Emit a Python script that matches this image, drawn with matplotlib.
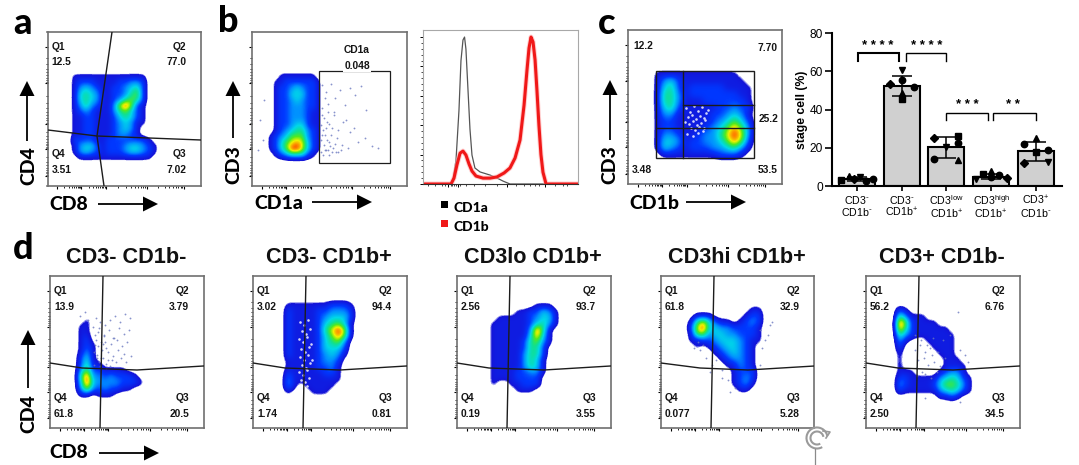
import numpy as np
import matplotlib
matplotlib.use("Agg")
import matplotlib.pyplot as plt
from matplotlib.colors import LinearSegmentedColormap
from matplotlib.patches import Arc, Rectangle

W, H = 1079, 465
plt.rcParams['font.family'] = ['Liberation Sans', 'DejaVu Sans']
plt.rcParams['mathtext.default'] = 'regular'

# density, 0 = empty, 1 = blue ... 9 = red, one string per row
dens_a = ["111111111111100", "122211112233200", "134321122345200", "145431122356200",
          "145431123565200", "135321137962100", "123211135642100", "112211124542100",
          "112211123431100", "112211123431000", "112211123321000", "222211222222210",
          "134421222344321", "134321222344321", "011111111111110"]
dens_b = ["0011111110", "0112222221", "0122343221", "0122444221", "0122343221",
          "0122333221", "0122333211", "0122333211", "0122344211", "0123455321",
          "1234666321", "1246787421", "1246997421", "0123444210"]
dens_c = ["11111111111100", "13421111111110", "14521222221111", "15531222222211",
          "15531112222221", "14521111122322", "13311111223431", "12211111234642",
          "12211112346863", "13321123357973", "14431223346862", "14321222334531",
          "01111111122210"]
dens_d1 = ["000000000000", "010000000000", "110000000000", "110000000000", "120000000000",
           "121000000000", "131000000000", "241000000000", "251100000000", "362211110000",
           "593323222100", "494333322210", "373232211000", "110111000000"]
dens_d2 = ["11111112221", "21111223332", "21111234442", "21111245641", "21111257971",
           "21111246861", "21111245630", "21111244420", "21111234310", "11111233200",
           "11111223100", "21111122100", "31111111100", "31011111000", "10001110000"]
dens_d3 = ["00000001110", "00001122431", "01111123441", "11111124531", "11111139510",
           "11111148410", "11111256310", "11111255200", "11111355200", "11111354100",
           "11111354100", "11112233100", "11112222000", "10011222000", "00001110000"]
dens_d4 = ["0000000000110", "0111000001220", "1574211012320", "2794433222210",
           "1663443322210", "1122344432110", "0101234432100", "0000123432100",
           "0000012332100", "0000001132100", "0000000122200", "0000000123200",
           "0000000123100", "0000000011000"]
dens_d5 = ["2100000000000", "5311100000000", "9621111000000", "8521111110000",
           "5321111111000", "3100011111000", "2000001111000", "1000000111000",
           "1000000011100", "1000000011110", "1110000123310", "2211111345421",
           "3211112466531", "2111111345421", "0000000112100"]

# sparse events outside the dense part
sparse_b_x = [322, 326, 331, 335, 340, 345, 350, 355, 361, 366, 324, 329, 334, 338, 343, 322, 327, 332,
              337, 342, 350, 358, 365, 372, 378, 325, 330, 336, 341, 348, 322, 328, 334, 346, 354, 260, 263, 258, 264,
              321, 323, 325, 327, 329, 321, 324, 326, 328, 331, 333, 321, 323, 326, 329, 332, 335, 338, 322, 325, 328]
sparse_b_y = [85, 92, 84, 98, 90, 105, 88, 95, 86, 110, 118, 124, 115, 130, 122, 135, 140, 128, 138, 145,
              132, 142, 138, 146, 148, 150, 146, 152, 150, 148, 108, 104, 112, 120, 128, 120, 140, 150, 100,
              125, 130, 135, 122, 142, 140, 145, 128, 150, 135, 148, 152, 155, 150, 155, 152, 144, 152, 115, 98, 112]
sparse_d1_x = [96, 100, 105, 110, 115, 120, 125, 130, 98, 104, 109, 114, 119, 124, 129, 95, 101, 106, 111,
               117, 122, 127, 97, 103, 108, 113, 118, 124, 94, 99, 106, 112, 116, 121, 126, 131, 80, 85, 88,
               93, 96, 99, 102, 105, 108, 94, 97, 100, 103, 106, 110, 113, 95, 98, 101, 104]
sparse_d1_y = [318, 322, 325, 320, 316, 322, 314, 318, 332, 335, 330, 338, 328, 334, 330, 345, 342, 348, 344,
               340, 346, 342, 355, 358, 352, 356, 350, 354, 365, 362, 364, 360, 362, 358, 362, 356, 316, 312, 320,
               327, 340, 328, 350, 342, 360, 352, 358, 366, 344, 368, 366, 338, 335, 346, 358, 336]
sparse_d5_x = [915, 920, 925, 930, 918, 924, 932, 938, 916, 922, 928, 934, 940, 945, 915, 921, 927, 933,
               917, 925, 931, 937, 943, 950, 960, 965, 968, 925, 960, 958]
sparse_d5_y = [350, 345, 352, 348, 360, 358, 355, 352, 368, 372, 365, 362, 366, 358, 335, 340, 345, 338,
               376, 374, 378, 372, 340, 335, 350, 355, 362, 398, 402, 312]
sparse_d4_x = [700, 706, 712, 703, 710, 716, 722, 760, 765, 770, 762, 768, 772, 728, 735, 722, 730, 698, 694, 760]
sparse_d4_y = [350, 358, 365, 345, 372, 360, 378, 330, 340, 325, 348, 335, 322, 380, 388, 370, 392, 342, 348, 365]

# thin spots inside the clouds where the white shows through
thin_c_x = [686, 690, 694, 698, 702, 706, 688, 692, 696, 700, 704, 685, 689, 693, 697, 701, 705, 691, 695, 699, 703, 687, 693, 698, 704, 708]
thin_c_y = [108, 112, 106, 111, 107, 113, 117, 115, 119, 116, 118, 122, 124, 121, 125, 123, 120, 128, 130, 127, 131, 134, 136, 133, 128, 110]
thin_d2_x = [300, 304, 308, 302, 306, 310, 299, 303, 307, 311, 301, 305, 309, 300, 304, 308, 302, 306, 310, 299, 303, 307, 301, 305, 309, 303, 307, 312]
thin_d2_y = [322, 325, 320, 331, 334, 329, 339, 342, 337, 344, 349, 352, 347, 357, 360, 355, 365, 368, 363, 372, 375, 370, 380, 382, 378, 388, 386, 360]

# stacked quadrant values
labels_a = ["12.5", "77.0", "3.51", "7.02"]
labels_d = [["13.9", "3.79", "61.8", "20.5"], ["3.02", "94.4", "1.74", "0.81"], ["2.56", "93.7", "0.19", "3.55"],
            ["61.8", "32.9", "0.077", "5.28"], ["56.2", "6.76", "2.50", "34.5"]]
titles_d = ["CD3- CD1b-", "CD3- CD1b+", "CD3lo CD1b+", "CD3hi CD1b+", "CD3+ CD1b-"]

# histogram, % of max
cd1a_x = [0, 17.4, 19.4, 21.3, 23.2, 24.5, 25.8, 26.8, 27.7, 29, 30.3, 31.6, 33.5, 36.8, 43.2, 47.7, 51.6, 56.1, 100]
cd1a_y = [0, 0, 2.7, 16.3, 50, 84, 98, 100, 91.8, 64.6, 37.4, 19.7, 10.9, 8.2, 6.1, 4.1, 2, 0, 0]
cd1b_x = [0, 18.1, 20, 21.9, 23.9, 25.8, 27.7, 29.7, 31.6, 34.2, 38.7, 43.2, 47.7, 52.3, 56.1, 59.4, 62.6, 65.2,
          67.1, 68.4, 69.7, 71, 72.3, 73.5, 74.8, 76.1, 77.4, 79.4, 100]
cd1b_y = [0, 0, 4, 13, 21, 22.4, 19.7, 13.6, 8.8, 5.4, 4, 4, 4.8, 7.5, 10.9, 17.7, 29.9, 53.7,
          77.6, 92.5, 100, 96.6, 84.4, 64, 40, 20, 8, 0, 0]

# bar chart
stages = ["CD3$^{\\text{-}}$\nCD1b$^{\\text{-}}$", "CD3$^{\\text{-}}$\nCD1b$^{+}$", "CD3$^{low}$\nCD1b$^{+}$",
          "CD3$^{high}$\nCD1b$^{+}$", "CD3$^{+}$\nCD1b$^{\\text{-}}$"]
means = [3.8, 52.3, 20.2, 4.8, 18.2]
sds = [1.0, 5.3, 5.3, 1.4, 5.0]
squares = [3.2, 45.3, 26, 6.1, 17.9]
tri_up = [5, 48.5, 13.6, 7.9, 24.9]
tri_down = [4.8, 60.5, 20.5, 3.5, 12.4]
diamonds = [3.5, 53.5, 25.2, 4.2, 12]
circles = [2.6, 55.5, 14, 5.8, 21.9]
circles2 = [3.5, 52, 22.6, 4.7, 18.7]
off_squares = [-.35, 0, .27, -.17, 0]
off_up = [-.19, 0, .27, 0, 0]
off_down = [.07, 0, 0, -.33, .27]
off_diamonds = [-.07, -.27, -.27, .35, -.27]
off_circles = [.21, 0, -.27, .17, -.27]
off_circles2 = [.36, .27, .27, 0, .27]

flow_cmap = LinearSegmentedColormap.from_list("flow", [
    (0.0, "#ffffff"), (0.05, "#ffffff"), (0.075, "#1414d8"), (0.22, "#0038ff"), (0.33, "#0090ff"),
    (0.45, "#00d8e8"), (0.56, "#10e090"), (0.67, "#50ea20"), (0.78, "#f0f000"), (0.89, "#ff8000"), (1.0, "#e80000")])

fig = plt.figure(figsize=(W / 100, H / 100), dpi=100)


def px_axes(x0, y0, x1, y1):
    return fig.add_axes([x0 / W, 1 - y1 / H, (x1 - x0) / W, (y1 - y0) / H])


def log_ticks(ax, xfrac, yfrac, x0, y0, x1, y1):
    xs = [x0 + f * (x1 - x0) for f in xfrac]
    ys = [y0 + f * (y1 - y0) for f in yfrac]
    steps = np.log10(np.arange(2, 10))
    ax.set_xticks(xs)
    ax.set_yticks(ys)
    ax.set_xticks([a + s * (b - a) for a, b in zip(xs[:-1], xs[1:]) for s in steps], minor=True)
    ax.set_yticks([a + s * (b - a) for a, b in zip(ys[:-1], ys[1:]) for s in steps], minor=True)
    ax.tick_params(which='major', length=2.5, width=0.8, labelbottom=False, labelleft=False, pad=0)
    ax.tick_params(which='minor', length=1.3, width=0.6)


def flow_plot(box, grid=None, extent=None, sx=None, sy=None, thin=None):
    x0, y0, x1, y1 = box
    ax = px_axes(x0, y0, x1, y1)
    if grid is not None:
        vals = np.array([[int(c) for c in row] for row in grid], dtype=float)
        # empty border so the cloud closes off inside the extent
        left, right, bottom, upper = extent
        dx = (right - left) / vals.shape[1]
        dy = (bottom - upper) / vals.shape[0]
        vals = np.pad(vals, 1)
        ax.imshow(vals, extent=(left - dx, right + dx, bottom + dy, upper - dy), cmap=flow_cmap, vmin=0, vmax=9,
                  aspect='auto', interpolation='bicubic', interpolation_stage='data', zorder=1)
    if thin is not None:
        ax.scatter(thin[0], thin[1], s=3.5, c="#f4f4ff", alpha=0.85, linewidths=0, zorder=2)
    if sx is not None:
        ax.scatter(sx, sy, s=1.7, c="#6a78c0", alpha=0.8, linewidths=0, zorder=2)
    ax.set_xlim(x0, x1)
    ax.set_ylim(y1, y0)
    for s in ax.spines.values():
        s.set_color("#707070")
        s.set_linewidth(1.2)
    log_ticks(ax, [.063, .22, .38, .65, .89], [.098, .333, .6, .76, .935], x0, y0, x1, y1)
    return ax


def gate(ax, xs, ys, lw=1.0):
    ax.plot(xs, ys, color="#1c1c1c", lw=lw, zorder=3)


def quad_text(ax, box, vals):
    x0, y0, x1, y1 = box
    for i, v in enumerate(vals):
        right = i % 2 == 1
        yq = y0 + (15 if i < 2 else 122)
        xt = x0 + 139 if right else x0 + 4
        ha = 'right' if right else 'left'
        ax.text(xt, yq, "Q%d" % [1, 2, 4, 3][i], ha=ha, va='center', fontsize=7.4, fontweight='bold', color="#151515", zorder=4)
        ax.text(xt, yq + 15.5, v, ha=ha, va='center', fontsize=7.4, fontweight='bold', color="#151515", zorder=4)


# a
box_a = (47.5, 32, 201, 186)
ax = flow_plot(box_a, dens_a, (72, 157, 160, 74))
gate(ax, [112, 97, 104], [32, 136, 186])
gate(ax, [48, 97, 201], [130, 136, 140])
quad_text(ax, box_a, labels_a)

# b
box_b = (252, 32, 406.5, 186)
ax = flow_plot(box_b, dens_b, (268, 320, 158, 74), sparse_b_x, sparse_b_y)
ax.add_patch(Rectangle((319, 71), 71, 92, fill=False, ec="#1c1c1c", lw=0.9, zorder=3))
ax.text(357, 50, "CD1a", ha='center', va='center', fontsize=7.4, fontweight='bold', color="#151515")
ax.text(357, 66, "0.048", ha='center', va='center', fontsize=7.4, fontweight='bold', color="#151515",
        zorder=4, bbox=dict(fc='white', ec='none', pad=0.6))

# histogram
ax = px_axes(423, 30, 578, 184)
ax.plot(cd1a_x, cd1a_y, color="#555555", lw=0.9)
ax.plot(cd1b_x, cd1b_y, color="#ffb0b0", lw=3.6, alpha=0.6)
ax.plot(cd1b_x, cd1b_y, color="#f01818", lw=2.2)
ax.set_xlim(0, 100)
ax.set_ylim(0, 104.8)
for s in ax.spines.values():
    s.set_color("#a8a8a8")
    s.set_linewidth(0.8)
ax.spines['bottom'].set_color("#333333")
ax.set_xticks([16, 22.5, 54, 79])
ax.set_yticks([0, 20, 40, 60, 80, 100])
ax.set_yticks(np.arange(0, 104, 4), minor=True)
ax.set_xticks([3, 8, 12, 14, 18, 19, 20, 21, 24, 28, 33, 40, 48, 60, 65, 69, 72, 75, 85, 90, 93], minor=True)
ax.tick_params(which='major', length=2.5, width=0.7, labelbottom=False, labelleft=False, pad=0)
ax.tick_params(which='minor', length=1.2, width=0.5)

# c
box_c = (628, 30, 782, 184)
ax = flow_plot(box_c, dens_c, (654, 752, 158, 71), thin=(thin_c_x, thin_c_y))
ax.add_patch(Rectangle((656, 71), 98, 87, fill=False, ec="#1c1c1c", lw=1.0, zorder=3))
gate(ax, [683, 683], [71, 158])
gate(ax, [683, 754], [105, 105])
gate(ax, [656, 754], [128, 128])
for xt, yt, s, ha in [(633, 46, "12.2", 'left'), (778, 48, "7.70", 'right'), (778, 119, "25.2", 'right'),
                      (632, 170, "3.48", 'left'), (778, 170, "53.5", 'right')]:
    ax.text(xt, yt, s, ha=ha, va='center', fontsize=7.4, fontweight='bold', color="#151515", zorder=4)

# bars
ax = px_axes(832, 33, 1062, 186)
pos = np.arange(5)
ax.bar(pos, means, width=0.8, color="#d0d0d0", edgecolor='k', linewidth=1.5, zorder=1)
ax.errorbar(pos, means, yerr=sds, fmt='none', ecolor='k', elinewidth=1.1, capsize=7, capthick=1.1, zorder=3)
for vals, offs, m, ms in [(squares, off_squares, 's', 4.6), (tri_up, off_up, '^', 5), (tri_down, off_down, 'v', 5),
                          (diamonds, off_diamonds, 'D', 3.6), (circles, off_circles, 'o', 4.6), (circles2, off_circles2, 'o', 4.6)]:
    ax.plot(pos + np.array(offs), vals, ls='none', marker=m, ms=ms, color='k', zorder=4)
for xa, xb, top_y, drop, lw in [(0.02, 0.94, 69.5, 65.4, 1.5), (1.1, 2.0, 69.5, 65.4, 1.0),
                                (1.99, 2.93, 38.2, 34.5, 1.0), (3.04, 4.0, 38.2, 34.5, 1.0)]:
    ax.plot([xa, xa, xb, xb], [drop, top_y, top_y, drop], color='k', lw=lw, solid_joinstyle='miter')
for xc, yc, s in [(0.47, 70, "* * * *"), (1.56, 70, "* * * *"), (2.48, 39, "* * *"), (3.5, 39, "* *")]:
    ax.text(xc, yc, s, ha='center', va='bottom', fontsize=9.5, fontweight='bold', linespacing=1)
ax.set_xlim(-0.56, 4.59)
ax.set_ylim(0, 80)
ax.set_yticks([0, 20, 40, 60, 80])
ax.set_xticks(pos)
ax.set_xticklabels(stages, fontsize=7.7, linespacing=1.0)
ax.tick_params(axis='y', labelsize=8.6, width=1.2, length=5, pad=1.5)
ax.tick_params(axis='x', width=1.2, length=3.5, pad=2)
ax.set_ylabel("stage cell (%)", fontsize=8.8, fontweight='bold', labelpad=1.5)
ax.spines[['top', 'right']].set_visible(False)
ax.spines[['left', 'bottom']].set_linewidth(1.5)
ax.patch.set_alpha(0)

# d row
left_d = [50, 253, 457, 661, 866]
grids_d = [dens_d1, dens_d2, dens_d3, dens_d4, dens_d5]
ext_d = [(78, 150, 398, 312), (285, 353, 395, 303), (490, 558, 393, 303), (688, 767, 393, 307), (897, 972, 400, 308)]
sparse_d = [(sparse_d1_x, sparse_d1_y), (None, None), (None, None), (sparse_d4_x, sparse_d4_y), (sparse_d5_x, sparse_d5_y)]
thin_d = [None, (thin_d2_x, thin_d2_y), None, None, None]
knee_d = [32, 32, 32, 39, 32]
for x0, grid, ext, sp, th, vals, knee in zip(left_d, grids_d, ext_d, sparse_d, thin_d, labels_d, knee_d):
    box = (x0, 276, x0 + 153.5, 428)
    ax = flow_plot(box, grid, ext, sp[0], sp[1], thin=th)
    gate(ax, [x0 + 53, x0 + 50], [276, 428])
    gate(ax, [x0, x0 + knee, x0 + 87, x0 + 153.5], [363, 368, 370, 366])
    quad_text(ax, box, vals)

# everything in figure pixels on top
top = fig.add_axes([0, 0, 1, 1], zorder=10)
top.set_xlim(0, W)
top.set_ylim(H, 0)
top.axis('off')
top.patch.set_alpha(0)

for s, xt, yt in [("a", 22, 24), ("b", 228, 22), ("c", 607, 24), ("d", 23, 248)]:
    top.text(xt, yt, s, ha='center', va='center', fontsize=26, fontweight='black', family='Lato', color='k')
for s, xt, yt in zip(titles_d, [126, 329, 533, 737, 942], [257] * 5):
    top.text(xt, yt, s, ha='center', va='center', fontsize=15.6, fontweight='bold', color="#111111")


def arrow(x, y, dx, dy):
    top.arrow(x, y, dx, dy, width=1.8, head_width=15, head_length=15, length_includes_head=True, color='k', lw=0)


for s, xt, yt in [("CD8", 69, 204), ("CD1a", 279, 203), ("CD1b", 654, 203), ("CD8", 69, 452)]:
    top.text(xt, yt, s, ha='center', va='center', fontsize=14, fontweight='black', family='Lato', color='k')
for s, xt, yt in [("CD4", 29, 166), ("CD3", 234, 165), ("CD3", 610, 165), ("CD4", 29, 414)]:
    top.text(xt, yt, s, ha='center', va='center', rotation=90, fontsize=14, fontweight='black', family='Lato', color='k')
for x, y, dx in [(98, 204, 60), (312, 202, 60), (686, 202, 60), (99, 453, 60)]:
    arrow(x, y, dx, 0)
for x, y, dy in [(27, 141, -60), (233, 138, -57), (610, 140, -60), (28, 388, -58)]:
    arrow(x, y, 0, dy)

# histogram legend
for yk, col, s in [(204, 'k', "CD1a"), (223, '#f01818', "CD1b")]:
    top.add_patch(Rectangle((440.5, yk - 3.5), 7, 7, color=col, lw=0))
    top.text(453, yk + 4, s, ha='left', va='center', fontsize=10, fontweight='black', family='Lato', color='k')

# rotate cursor left in the screenshot
for r, lw in [(10.5, 1.5), (6.5, 1.5)]:
    top.add_patch(Arc((817, 438), 2 * r, 2 * r, theta1=60, theta2=350, color="#9a9a9a", lw=lw))
top.plot([826, 830, 823], [438, 432, 431], color="#9a9a9a", lw=1.2)
top.plot([815, 815], [449, 465], color="#8a8a8a", lw=0.9)

fig.savefig("out.png", dpi=100)
